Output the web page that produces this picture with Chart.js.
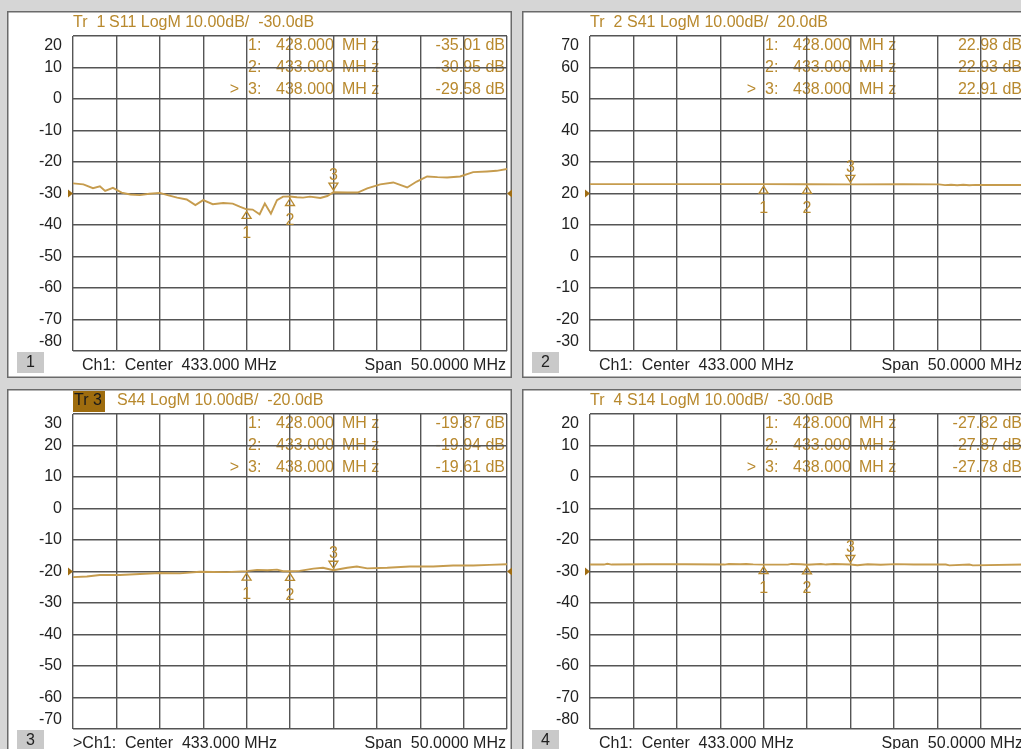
<!DOCTYPE html>
<html><head><meta charset="utf-8">
<script src="https://cdn.jsdelivr.net/npm/chart.js@4.4.1/dist/chart.umd.min.js"></script>
<style>
html,body{margin:0;padding:0;background:#d6d6d6;overflow:hidden;width:1021px;height:749px;position:relative;}
canvas{position:absolute;}
</style></head><body>
<canvas id="p1"></canvas><canvas id="p2"></canvas><canvas id="p3"></canvas><canvas id="p4"></canvas>
<script>
// ---- data ----
const freqStart = 408, freqStop = 458, freqStep = 5;
const markerFreqs = [428, 433, 438];
const markerFreqLabels = ["428.000", "433.000", "438.000"];

const s11Freq = [408.0,409.2,410.3,411.1,411.7,412.6,413.6,414.6,415.7,416.8,418.0,419.0,420.0,421.1,422.1,423.0,424.1,425.3,426.4,427.2,428.0,428.7,429.5,430.1,430.8,431.5,432.2,433.0,433.8,434.5,435.3,436.5,437.3,438.0,439.6,440.8,441.9,443.4,444.9,446.5,447.6,448.8,450.0,451.1,452.6,454.1,455.7,456.8,458.0];
const s11Val = [-26.8,-27.1,-28.3,-27.7,-29.2,-28.2,-29.7,-30.3,-30.5,-30.1,-29.8,-30.6,-31.3,-31.9,-33.7,-32.1,-33.4,-33.0,-33.2,-34.2,-35.01,-35.1,-36.6,-33.2,-36.4,-32.1,-31.0,-30.95,-31.2,-31.3,-31.0,-31.4,-30.8,-29.58,-29.7,-29.7,-28.4,-27.1,-26.5,-28.1,-26.2,-24.6,-24.8,-24.9,-24.6,-23.2,-23.0,-22.8,-22.2];
const s11Markers = [-35.01, -30.95, -29.58];

const s41Freq = [408,415,422,428,433,438,444,448.2,448.9,449.6,450.3,451.0,451.7,452.4,453.1,454,456,458];
const s41Val = [22.98,22.98,22.97,22.98,22.93,22.91,22.92,22.9,22.65,22.8,22.62,22.78,22.6,22.75,22.68,22.72,22.7,22.7];
const s41Markers = [22.98, 22.93, 22.91];

const s44Freq = [408.0,409.6,411.1,413.4,415.7,418.0,420.3,422.6,425.7,428.0,429.2,430.4,431.5,432.2,433.0,434.1,435.7,436.8,438.0,439.6,440.7,441.9,444.2,446.8,449.5,451.8,454.1,456.0,458.0];
const s44Val = [-21.8,-21.6,-21.1,-21.1,-20.8,-20.5,-20.6,-20.1,-20.2,-19.87,-19.5,-19.6,-19.4,-19.9,-19.94,-19.8,-19.1,-18.8,-19.61,-18.8,-18.4,-19.0,-18.8,-18.4,-18.4,-18.1,-18.1,-17.9,-17.7];
const s44Markers = [-19.87, -19.94, -19.61];

const s14Freq = [408,409.6,410.0,410.5,414.7,419.0,423.5,424.0,425.3,426.0,426.8,428,430.8,431.2,432.3,433,434.6,435.2,436.1,438,438.8,440.0,441.5,443.2,445.3,449.0,449.4,451.7,452.1,458];
const s14Val = [-27.8,-27.8,-27.55,-27.8,-27.7,-27.7,-27.8,-27.6,-27.7,-27.6,-27.75,-27.82,-27.82,-27.6,-27.7,-27.87,-27.6,-27.8,-27.6,-27.78,-28.0,-27.7,-27.85,-27.65,-27.8,-27.8,-28.05,-27.8,-28.05,-27.8];
const s14Markers = [-27.82, -27.87, -27.78];

const traceTitles = ["S11 LogM 10.00dB/  -30.0dB", "S41 LogM 10.00dB/  20.0dB", "S44 LogM 10.00dB/  -20.0dB", "S14 LogM 10.00dB/  -30.0dB"];
const yRanges = [[-80, 20], [-30, 70], [-70, 30], [-80, 20]];
const refLevels = [-30, 20, -20, -30];
const footerLeft = ["Ch1:  Center  433.000 MHz", "Ch1:  Center  433.000 MHz", ">Ch1:  Center  433.000 MHz", "Ch1:  Center  433.000 MHz"];
const footerRight = "Span  50.0000 MHz";

// ---- style ----
const FONT = '16px "Liberation Sans", Arial, sans-serif';
const GOLD = '#b8892e';
const TRACE = '#c69c4e';
const GRID = '#555555';
const ARROW = '#a06d12';

const panels = [
  {id:'p1', n:1, fx:7,   fy:11,  fw:505, fh:367, L:73,  T:36,  R:507,  B:351, freq:s11Freq, val:s11Val, mk:s11Markers, active:false, sOff:36},
  {id:'p2', n:2, fx:522, fy:11,  fw:506, fh:367, L:590, T:36,  R:1024, B:351, freq:s41Freq, val:s41Val, mk:s41Markers, active:false, sOff:37},
  {id:'p3', n:3, fx:7,   fy:389, fw:505, fh:381, L:73,  T:414, R:507,  B:729, freq:s44Freq, val:s44Val, mk:s44Markers, active:true,  sOff:44},
  {id:'p4', n:4, fx:522, fy:389, fw:506, fh:381, L:590, T:414, R:1024, B:729, freq:s14Freq, val:s14Val, mk:s14Markers, active:false, sOff:37}
];
const cfgById = {};

const vnaPlugin = {
  id: 'vna',
  beforeDraw(chart) {
    const c = cfgById[chart.canvas.id];
    const ctx = chart.ctx, ca = chart.chartArea, ys = chart.scales.y;
    const W = chart.width, H = chart.height;
    const i = c.n - 1;
    ctx.save();
    ctx.fillStyle = '#ffffff'; ctx.fillRect(0, 0, W, H);
    ctx.strokeStyle = '#6a6a6a'; ctx.lineWidth = 1.5; ctx.strokeRect(0.75, 0.75, W - 1.5, H - 1.5);
    ctx.font = FONT; ctx.textBaseline = 'middle';
    // header
    const hy = ca.top - 13;
    if (c.active) {
      ctx.fillStyle = '#9e6c0e';
      ctx.fillRect(ca.left, ca.top - 23, 32, 21);
      ctx.fillStyle = '#1a1a1a'; ctx.textAlign = 'left';
      ctx.fillText('Tr 3'.replace('3', String(c.n)), ca.left + 1, hy);
    } else {
      ctx.fillStyle = GOLD; ctx.textAlign = 'left';
      ctx.fillText('Tr  ' + c.n, ca.left, hy);
    }
    ctx.fillStyle = GOLD;
    ctx.fillText(traceTitles[i], ca.left + c.sOff, hy);
    // y tick labels
    ctx.fillStyle = '#222'; ctx.textAlign = 'right';
    ys.ticks.forEach(t => {
      let py = ys.getPixelForValue(t.value);
      if (t.value === ys.max) py += 10; else if (t.value === ys.min) py -= 9;
      ctx.fillText(String(t.value), ca.left - 11, py);
    });
    // marker table (under the grid)
    ctx.fillStyle = GOLD;
    c.mk.forEach((v, k) => {
      const ry = ca.top + 10 + k * 22;
      ctx.textAlign = 'left';
      ctx.fillText((k + 1) + ':', ca.left + 175, ry);
      ctx.fillText(markerFreqLabels[k], ca.left + 203, ry);
      ctx.fillText('MH z', ca.left + 269, ry);
      ctx.textAlign = 'right';
      ctx.fillText(v.toFixed(2) + ' dB', ca.right - 2, ry);
      if (k === 2) ctx.fillText('>', ca.left + 166, ry);
    });
    // footer
    const fy = ca.bottom + 15;
    ctx.fillStyle = '#c9c9c9';
    ctx.fillRect(10, ca.bottom + 1, 27, 21);
    ctx.fillStyle = '#222'; ctx.textAlign = 'center';
    ctx.fillText(String(c.n), 23.5, ca.bottom + 11.5);
    ctx.textAlign = 'left';
    const fl = footerLeft[i];
    ctx.fillText(fl, fl.startsWith('>') ? ca.left + 0 : ca.left + 9, fy);
    ctx.textAlign = 'right';
    ctx.fillText(footerRight, ca.right - 1, fy);
    ctx.restore();
  },
  afterDatasetsDraw(chart) {
    const c = cfgById[chart.canvas.id];
    const ctx = chart.ctx, ca = chart.chartArea, xs = chart.scales.x, ys = chart.scales.y;
    const i = c.n - 1;
    ctx.save();
    // reference arrows
    const ry = ys.getPixelForValue(refLevels[i]);
    ctx.fillStyle = ARROW;
    ctx.beginPath(); ctx.moveTo(ca.left - 5, ry - 4); ctx.lineTo(ca.left - 5, ry + 4); ctx.lineTo(ca.left, ry); ctx.closePath(); ctx.fill();
    ctx.beginPath(); ctx.moveTo(ca.right + 5, ry - 4); ctx.lineTo(ca.right + 5, ry + 4); ctx.lineTo(ca.right, ry); ctx.closePath(); ctx.fill();
    // markers
    ctx.font = FONT; ctx.textBaseline = 'middle'; ctx.textAlign = 'center';
    ctx.strokeStyle = GOLD; ctx.fillStyle = GOLD; ctx.lineWidth = 1.3;
    c.mk.forEach((v, k) => {
      const px = xs.getPixelForValue(markerFreqs[k]);
      const py = ys.getPixelForValue(v);
      if (k < 2) {
        ctx.beginPath(); ctx.moveTo(px, py + 2); ctx.lineTo(px - 4.5, py + 9); ctx.lineTo(px + 4.5, py + 9); ctx.closePath(); ctx.stroke();
        ctx.fillText(String(k + 1), px, py + 24);
      } else {
        ctx.beginPath(); ctx.moveTo(px, py - 2); ctx.lineTo(px - 4.5, py - 9); ctx.lineTo(px + 4.5, py - 9); ctx.closePath(); ctx.stroke();
        ctx.fillText(String(k + 1), px, py - 17);
      }
    });
    ctx.restore();
  }
};

panels.forEach((p, i) => {
  cfgById[p.id] = p;
  const cv = document.getElementById(p.id);
  cv.width = p.fw; cv.height = p.fh;
  cv.style.left = p.fx + 'px'; cv.style.top = p.fy + 'px';
  cv.style.width = p.fw + 'px'; cv.style.height = p.fh + 'px';
  const gridOpts = {color: GRID, lineWidth: 1.4, drawTicks: false};
  new Chart(cv, {
    type: 'line',
    data: {datasets: [{
      data: p.freq.map((f, k) => ({x: f, y: p.val[k]})),
      borderColor: TRACE, borderWidth: 1.9, pointRadius: 0, tension: 0, fill: false
    }]},
    options: {
      responsive: false, animation: false, devicePixelRatio: 1,
      layout: {padding: {left: p.L - p.fx, top: p.T - p.fy, right: p.fw - (p.R - p.fx), bottom: p.fh - (p.B - p.fy)}},
      plugins: {legend: {display: false}, tooltip: {enabled: false}},
      scales: {
        x: {type: 'linear', min: freqStart, max: freqStop, ticks: {display: false, stepSize: freqStep}, grid: gridOpts, border: {display: false}, afterFit: s => { s.height = 0; }},
        y: {type: 'linear', min: yRanges[i][0], max: yRanges[i][1], ticks: {display: false, stepSize: 10}, grid: gridOpts, border: {display: false}, afterFit: s => { s.width = 0; }}
      }
    },
    plugins: [vnaPlugin]
  });
});
</script>
</body></html>
